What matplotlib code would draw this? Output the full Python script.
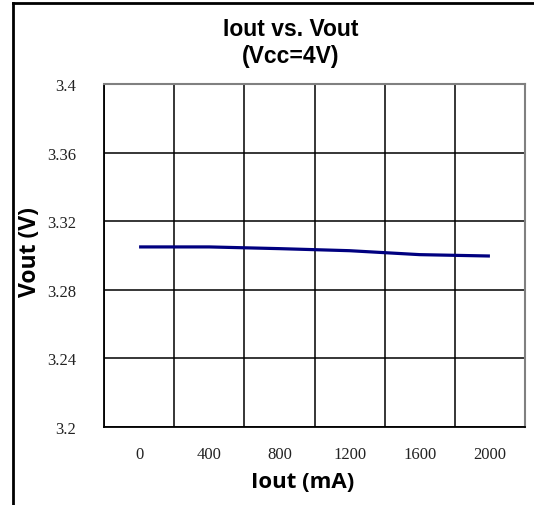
import matplotlib.pyplot as plt
import numpy as np
from matplotlib.lines import Line2D

# Iout vs Vout at Vcc=4V
iout = [0, 400, 800, 1200, 1600, 2000]
vout = [3.3050, 3.3050, 3.3040, 3.3028, 3.3005, 3.2997]
yticks = [3.2, 3.24, 3.28, 3.32, 3.36, 3.4]
ytick_labels = ['3.2', '3.24', '3.28', '3.32', '3.36', '3.4']

W, H = 534, 506
fig = plt.figure(figsize=(W / 100, H / 100), dpi=100)
ax = fig.add_axes([104 / W, 1 - 428 / H, (525 - 104) / W, (428 - 85) / H])

# category axis: one cell per current value, point in the middle of the cell
xpos = np.arange(len(iout)) + 0.5
ax.plot(xpos, vout, color='#000080', lw=2.3, solid_capstyle='butt')

ax.set_xlim(0, len(iout))
ax.set_ylim(3.2, 3.4)
ax.set_xticks(xpos)
ax.set_xticklabels([str(v) for v in iout], family='Liberation Serif', fontsize=12, color='#222222')
ax.set_xticks(np.arange(len(iout) + 1), minor=True)
ax.set_yticks(yticks)
ax.set_yticklabels(ytick_labels, family='Liberation Serif', fontsize=12, color='#222222')
ax.tick_params(which='both', length=0)
ax.tick_params(axis='x', pad=14)
ax.tick_params(axis='y', pad=20)
ax.grid(True, axis='y', which='major', color='black', lw=1.1)
ax.grid(True, axis='x', which='minor', color='black', lw=1.1)
ax.set_axisbelow(True)

for side in ['left', 'bottom']:
    ax.spines[side].set_color('black')
    ax.spines[side].set_linewidth(1.3)
for side in ['top', 'right']:
    ax.spines[side].set_color('#808080')
    ax.spines[side].set_linewidth(1.5)

fig.text(291 / W, 1 - 30 / H, 'Iout vs. Vout', ha='center', va='center',
         family='Liberation Sans', fontweight='bold', fontsize=16.5)
fig.text(291 / W, 1 - 57 / H, '(Vcc=4V)', ha='center', va='center',
         family='Liberation Sans', fontweight='bold', fontsize=16.5)
fig.text(303 / W, 1 - 482 / H, 'Iout (mA)', ha='center', va='center',
         family='Open Sans', fontweight='bold', fontsize=16)
fig.text(30 / W, 1 - 252 / H, 'Vout (V)', ha='center', va='center', rotation=90,
         family='Open Sans', fontweight='bold', fontsize=16.5)

# outer chart border (left and top edges visible)
fig.add_artist(Line2D([12.5 / W, 12.5 / W], [0, 1 - 4 / H], color='black', lw=2))
fig.add_artist(Line2D([12.5 / W, 1], [1 - 4 / H, 1 - 4 / H], color='black', lw=2))

fig.savefig('out.png', dpi=100)
